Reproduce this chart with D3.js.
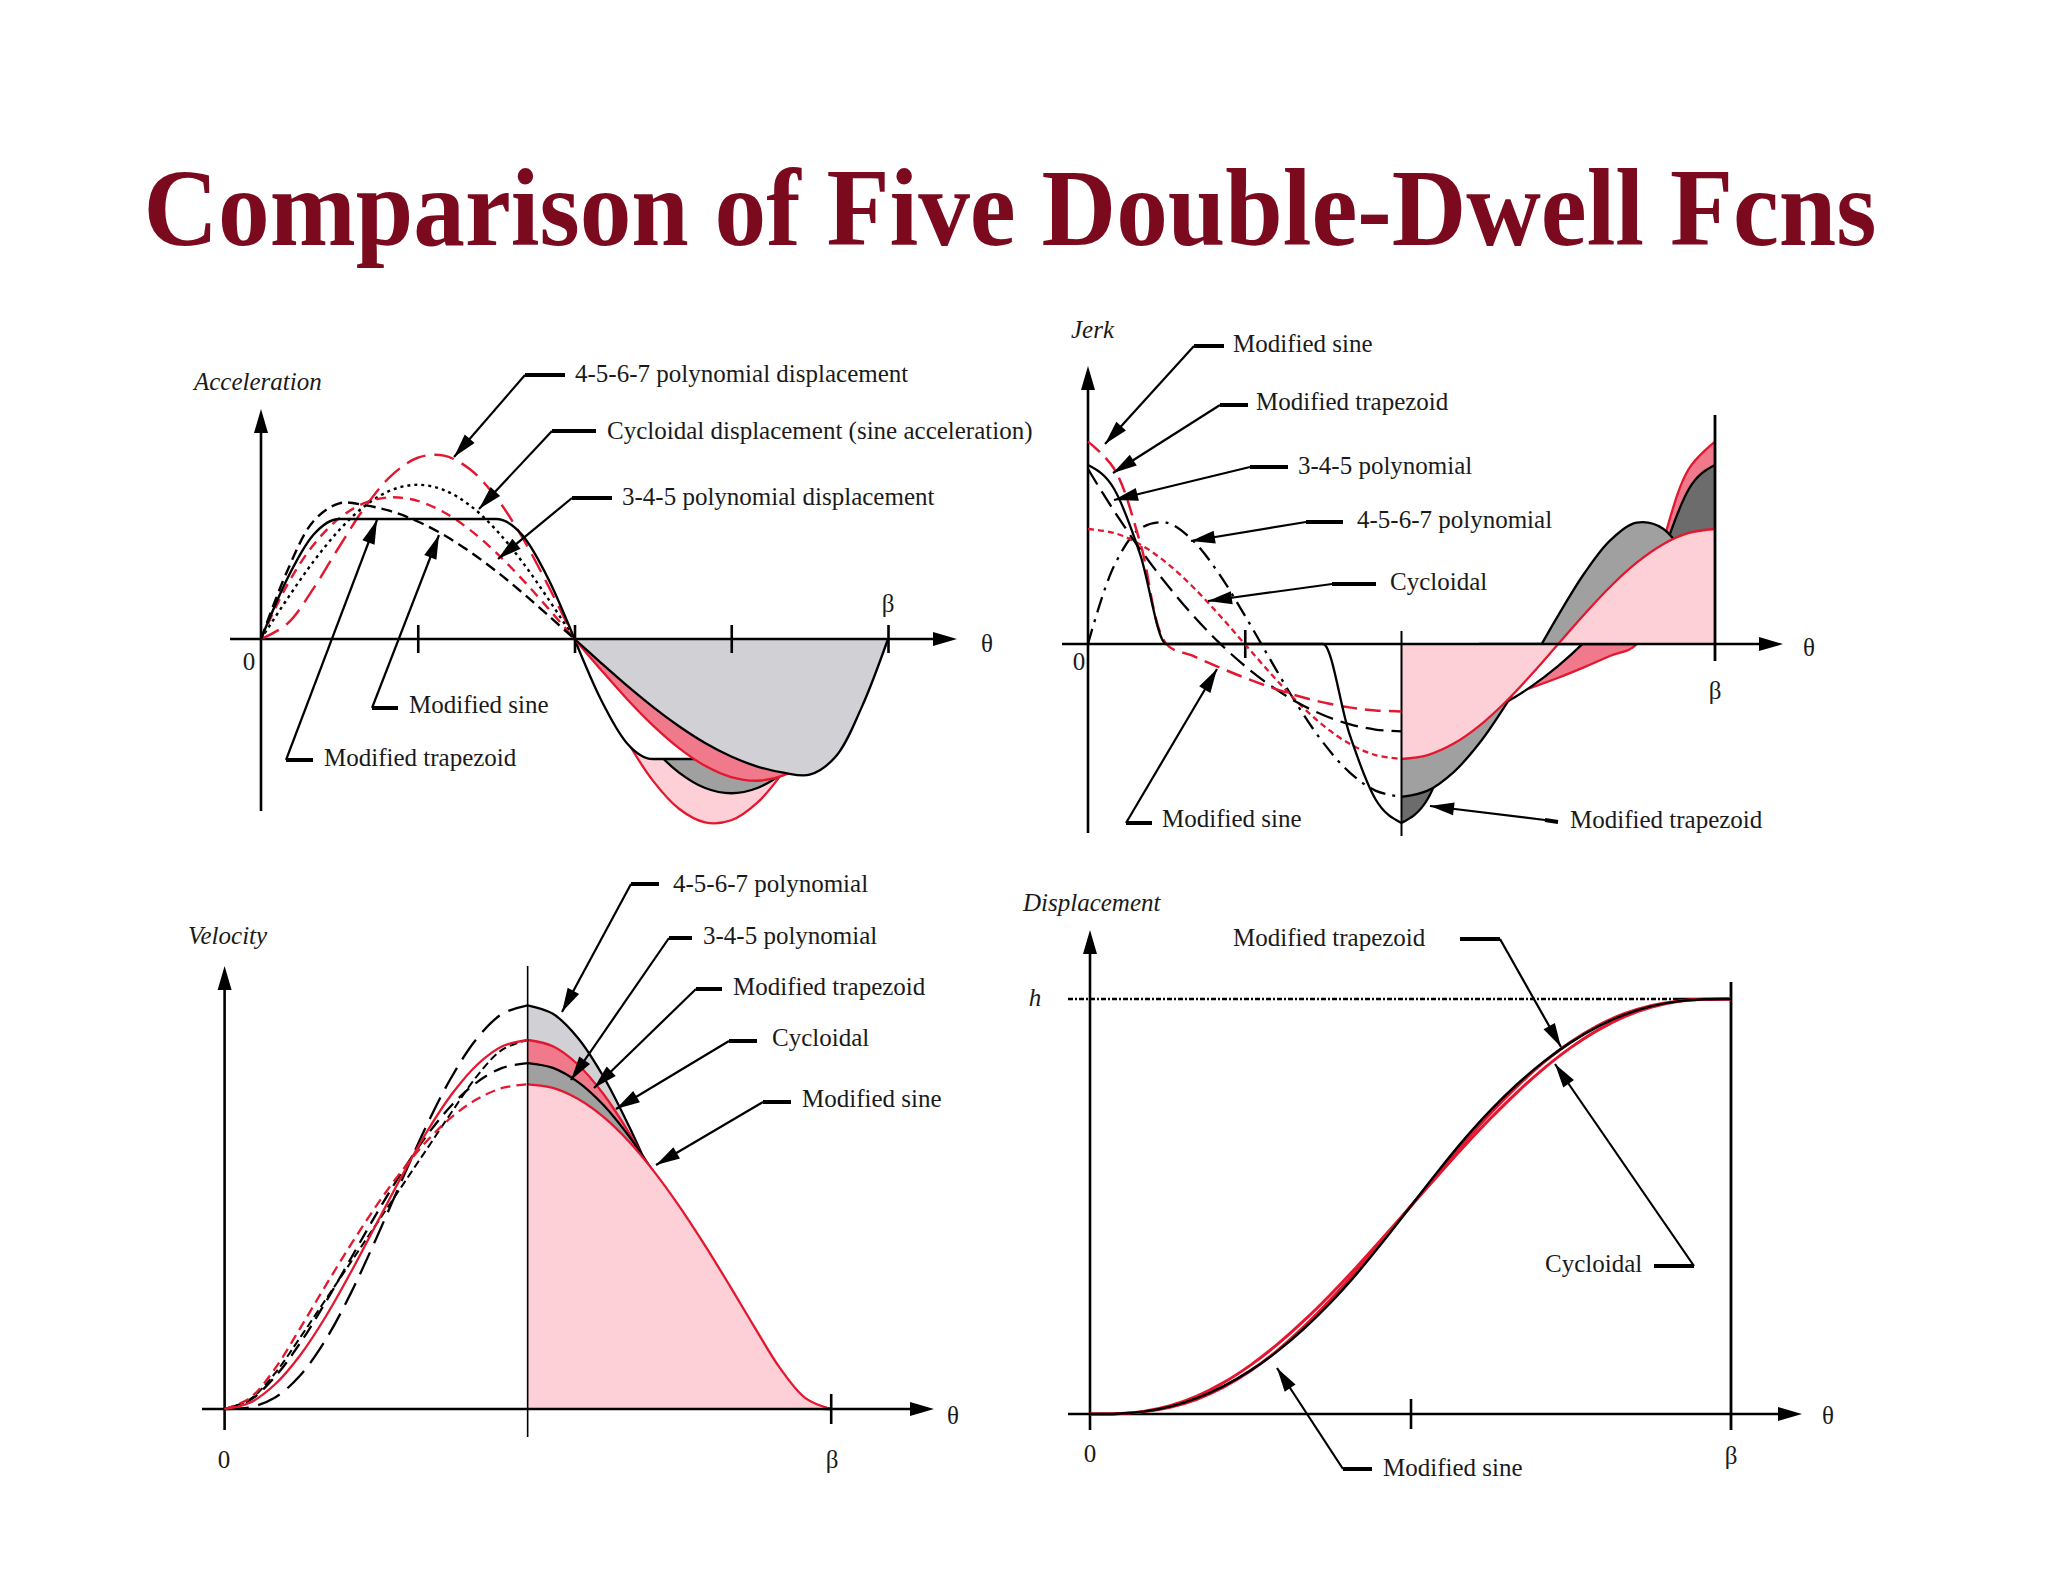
<!DOCTYPE html>
<html><head><meta charset="utf-8">
<script src="https://cdn.jsdelivr.net/npm/d3@7"></script>
<style>html,body{margin:0;padding:0;background:#fff;} svg{display:block;}</style>
</head><body>
<script>
// ---------- DATA (θ/β fraction and normalised values) ----------
const theta = [0,0.0417,0.0833,0.125,0.1667,0.2083,0.25,0.2917,0.3333,0.375,0.4167,0.4583,0.5,0.5417,0.5833,0.625,0.6667,0.7083,0.75,0.7917,0.8333,0.875,0.9167,0.9583,1];

// Acceleration
const accModTrap = [0,2.444,4.233,4.888,4.888,4.888,4.888,4.888,4.888,4.888,4.233,2.444,0,-2.444,-4.233,-4.888,-4.888,-4.888,-4.888,-4.888,-4.888,-4.888,-4.233,-2.444,0];
const accModSine = [0,2.764,4.787,5.528,5.444,5.195,4.787,4.235,3.553,2.764,1.891,0.960,0,-0.960,-1.891,-2.764,-3.553,-4.235,-4.787,-5.195,-5.444,-5.528,-4.787,-2.764,0];
const acc345 = [0,2.196,3.819,4.922,5.556,5.773,5.625,5.165,4.444,3.516,2.431,1.241,0,-1.241,-2.431,-3.516,-4.444,-5.165,-5.625,-5.773,-5.556,-4.922,-3.819,-2.196,0];
const accCyc = [0,1.626,3.142,4.443,5.441,6.069,6.283,6.069,5.441,4.443,3.142,1.626,0,-1.626,-3.142,-4.443,-5.441,-6.069,-6.283,-6.069,-5.441,-4.443,-3.142,-1.626,0];
const acc4567 = [0,0.614,2.042,3.768,5.401,6.665,7.383,7.469,6.914,5.768,4.135,2.157,0,-2.157,-4.135,-5.768,-6.914,-7.469,-7.383,-6.665,-5.401,-3.768,-2.042,-0.614,0];

// Jerk
const jerkModTrap = [61.43,53.2,30.71,0,0,0,0,0,0,0,-30.71,-53.2,-61.43,-53.2,-30.71,0,0,0,0,0,0,0,30.71,53.2,61.43];
const jerkModSine = [69.47,60.16,34.73,0,-4.02,-7.92,-11.58,-14.88,-17.74,-20.05,-21.76,-22.8,-23.16,-22.8,-21.76,-20.05,-17.74,-14.88,-11.58,-7.92,-4.02,0,34.73,60.16,69.47];
const jerk345 = [60,45.63,32.5,20.63,10,0.63,-7.5,-14.38,-20,-24.38,-27.5,-29.38,-30,-29.38,-27.5,-24.38,-20,-14.38,-7.5,0.63,10,20.63,32.5,45.63,60];
const jerkCyc = [39.48,38.13,34.19,27.92,19.74,10.22,0,-10.22,-19.74,-27.92,-34.19,-38.13,-39.48,-38.13,-34.19,-27.92,-19.74,-10.22,0,10.22,19.74,27.92,34.19,38.13,39.48];
const jerk4567 = [0,26.85,39.66,41.63,35.65,24.29,9.84,-5.72,-20.74,-33.84,-43.95,-50.33,-52.5,-50.33,-43.95,-33.84,-20.74,-5.72,9.84,24.29,35.65,41.63,39.66,26.85,0];

// Velocity
const velModTrap = [0,0.052,0.194,0.389,0.593,0.796,1,1.204,1.407,1.611,1.806,1.948,2,1.948,1.806,1.611,1.407,1.204,1,0.796,0.593,0.389,0.194,0.052,0];
const velModSine = [0,0.059,0.22,0.44,0.669,0.891,1.1,1.288,1.451,1.583,1.68,1.74,1.76,1.74,1.68,1.583,1.451,1.288,1.1,0.891,0.669,0.44,0.22,0.059,0];
const vel345 = [0,0.048,0.175,0.359,0.579,0.816,1.055,1.28,1.481,1.648,1.772,1.849,1.875,1.849,1.772,1.648,1.481,1.28,1.055,0.816,0.579,0.359,0.175,0.048,0];
const velCyc = [0,0.034,0.134,0.293,0.5,0.741,1,1.259,1.5,1.707,1.866,1.966,2,1.966,1.866,1.707,1.5,1.259,1,0.741,0.5,0.293,0.134,0.034,0];
const vel4567 = [0,0.009,0.062,0.183,0.375,0.628,0.923,1.235,1.536,1.802,2.01,2.142,2.188,2.142,2.01,1.802,1.536,1.235,0.923,0.628,0.375,0.183,0.062,0.009,0];

// Displacement (fraction of h) – the tight red/black bundle
const dispModTrap = [0,0.0007,0.0056,0.0177,0.0381,0.0671,0.1045,0.1504,0.2048,0.2677,0.3389,0.4174,0.5,0.5826,0.6611,0.7323,0.7952,0.8496,0.8955,0.9329,0.9619,0.9823,0.9944,0.9993,1];
const dispModSine = [0,0.0008,0.0063,0.02,0.0431,0.0756,0.1172,0.167,0.2242,0.2875,0.3556,0.427,0.5,0.573,0.6444,0.7125,0.7758,0.833,0.8828,0.9244,0.9569,0.98,0.9937,0.9992,1];
const disp345 = [0,0.0007,0.0051,0.0161,0.0355,0.0645,0.1035,0.1522,0.2099,0.2752,0.3466,0.4222,0.5,0.5778,0.6534,0.7248,0.7901,0.8478,0.8965,0.9355,0.9645,0.9839,0.9949,0.9993,1];

const xTickLabels = ["0","β"];
const titleText = "Comparison of Five Double-Dwell Fcns";

// ---------- DRAWING ----------
const W = 2048, H = 1582;
const RED = "#e3172f", PINK = "#fdd0d7", SALMON = "#f07a8b", LGREY = "#d0d0d5", MGREY = "#a0a0a0", DGREY = "#6c6c6c";
const FONT = "'Liberation Serif','Times New Roman',serif";
const SMOOTH = d3.curveCatmullRom.alpha(0.5), KINKED = d3.curveMonotoneX;

const svg = d3.select("body").append("svg").attr("width", W).attr("height", H);
svg.append("rect").attr("width", W).attr("height", H).attr("fill", "#fff");

svg.append("text").attr("x", 1010).attr("y", 245).attr("text-anchor", "middle")
  .attr("font-family", FONT).attr("font-weight", "bold").attr("font-size", 110)
  .attr("fill", "#7b0a1e").attr("textLength", 1733).attr("lengthAdjust", "spacingAndGlyphs")
  .text(titleText);

function arrowHead(g, tip, from, len, hw) {
  const dx = tip[0] - from[0], dy = tip[1] - from[1];
  const L = Math.hypot(dx, dy), ux = dx / L, uy = dy / L;
  const bx = tip[0] - ux * len, by = tip[1] - uy * len, px = -uy, py = ux;
  g.append("path").attr("d", `M${tip[0]},${tip[1]}L${bx + px * hw},${by + py * hw}L${bx - px * hw},${by - py * hw}Z`).attr("fill", "#000");
}

function text(g, x, y, s, opts = {}) {
  return g.append("text").attr("x", x).attr("y", y).attr("font-family", FONT)
    .attr("font-size", opts.size || 25).attr("font-style", opts.italic ? "italic" : "normal")
    .attr("text-anchor", opts.anchor || "start").attr("fill", "#1a1a1a").text(s);
}

function drawPanel(p) {
  const g = svg.append("g");
  const xs = d3.scaleLinear().domain([0, 1]).range([p.x0, p.x1]);
  const ys = d3.scaleLinear().domain([0, 1]).range([p.y0, p.y0 - p.unit]);
  const pts = vals => theta.map((t, i) => ({ t, v: vals[i] }));
  const lineGen = c => d3.line().x(d => xs(d.t)).y(d => ys(d.v)).curve(c || SMOOTH);
  const areaGen = c => d3.area().x(d => xs(d.t)).y0(ys(0)).y1(d => ys(d.v)).curve(c || SMOOTH);

  // right-half filled regions (bottom to top)
  (p.fills || []).forEach(s => {
    const d = pts(s.values).filter(d => d.t >= 0.5);
    g.append("path").datum(d).attr("d", areaGen(s.curve)).attr("fill", s.fill);
    g.append("path").datum(d).attr("d", lineGen(s.curve)).attr("fill", "none").attr("stroke", s.color).attr("stroke-width", 2.3);
  });

  // axes lines
  g.append("line").attr("x1", p.yAxisX).attr("x2", p.yAxisX).attr("y1", p.yTop + 10).attr("y2", p.yBottom).attr("stroke", "#000").attr("stroke-width", 2.6);
  arrowHead(g, [p.yAxisX, p.yTop], [p.yAxisX, p.yTop + 50], 24, 7);
  g.append("line").attr("x1", p.xLeft).attr("x2", p.xRight - 10).attr("y1", p.y0).attr("y2", p.y0).attr("stroke", "#000").attr("stroke-width", 2.6);
  arrowHead(g, [p.xRight, p.y0], [p.xRight - 50, p.y0], 24, 7);

  // tick marks through the library axis
  if (p.ticks && p.ticks.length) {
    const ax = d3.axisBottom(xs).tickValues(p.ticks).tickFormat("").tickSizeOuter(0).tickSizeInner(p.tickHalf);
    const ga = g.append("g").attr("transform", `translate(0,${p.y0})`).call(ax);
    ga.select(".domain").remove();
    ga.selectAll(".tick line").attr("y1", -p.tickHalf).attr("y2", p.tickHalf).attr("stroke", "#000").attr("stroke-width", 2.6);
  }

  // extra vertical rules
  (p.vlines || []).forEach(v => {
    g.append("line").attr("x1", xs(v.t)).attr("x2", xs(v.t)).attr("y1", v.y1).attr("y2", v.y2).attr("stroke", "#000").attr("stroke-width", v.w);
  });

  // h reference line
  if (p.hline) {
    g.append("line").attr("x1", p.hline.x1).attr("x2", p.hline.xd).attr("y1", ys(1)).attr("y2", ys(1))
      .attr("stroke", "#000").attr("stroke-width", 2.6).attr("stroke-dasharray", "5,2,2,2");
    g.append("line").attr("x1", p.hline.xd).attr("x2", xs(1)).attr("y1", ys(1)).attr("y2", ys(1))
      .attr("stroke", "#000").attr("stroke-width", 2.6);
  }

  // left-half (or full) styled curves
  (p.lines || []).forEach(s => {
    const d = pts(s.values).filter(d => p.fullLines ? true : d.t <= 0.5);
    g.append("path").datum(d).attr("d", lineGen(s.curve)).attr("fill", "none").attr("stroke", s.color)
      .attr("stroke-width", s.w || 2.4).attr("stroke-dasharray", s.dash || null);
  });

  // axis labels
  text(g, p.title[0], p.title[1], p.title[2], { italic: true });
  text(g, p.zero[0], p.zero[1], xTickLabels[0], { anchor: "middle" });
  text(g, p.beta[0], p.beta[1], xTickLabels[1], { anchor: "middle" });
  text(g, p.thetaLbl[0], p.thetaLbl[1], "θ", { anchor: "middle" });
  if (p.hLbl) text(g, p.hLbl[0], p.hLbl[1], "h", { italic: true, anchor: "middle" });

  // annotations
  (p.notes || []).forEach(n => {
    text(g, n.tx, n.ty, n.text);
    g.append("line").attr("x1", n.stub[0][0]).attr("y1", n.stub[0][1]).attr("x2", n.stub[1][0]).attr("y2", n.stub[1][1])
      .attr("stroke", "#000").attr("stroke-width", 4);
    g.append("line").attr("x1", n.stub[1][0]).attr("y1", n.stub[1][1]).attr("x2", n.tip[0]).attr("y2", n.tip[1])
      .attr("stroke", "#000").attr("stroke-width", 2.2);
    arrowHead(g, n.tip, n.stub[1], 24, 6.5);
  });
}

// Acceleration
drawPanel({
  x0: 261, x1: 888, y0: 639, unit: 24.55,
  yAxisX: 261, yTop: 409, yBottom: 811, xLeft: 230, xRight: 957,
  ticks: [0.25, 0.5, 0.75, 1], tickHalf: 14,
  fills: [
    { values: acc4567, fill: PINK, color: RED },
    { values: accCyc, fill: MGREY, color: "#000" },
    { values: accModTrap, fill: "#fff", color: "#000", curve: KINKED },
    { values: acc345, fill: SALMON, color: RED },
    { values: accModSine, fill: LGREY, color: "#000" }
  ],
  lines: [
    { values: acc4567, color: RED, dash: "20,9" },
    { values: accCyc, color: "#000", dash: "3,4" },
    { values: acc345, color: RED, dash: "10,7" },
    { values: accModSine, color: "#000", dash: "11,6" },
    { values: accModTrap, color: "#000", curve: KINKED }
  ],
  title: [194, 390, "Acceleration"], zero: [249, 670], beta: [888, 612], thetaLbl: [987, 652],
  notes: [
    { text: "4-5-6-7 polynomial displacement", tx: 575, ty: 382, stub: [[565, 375], [525, 375]], tip: [454, 457] },
    { text: "Cycloidal displacement (sine acceleration)", tx: 607, ty: 439, stub: [[596, 431], [552, 431]], tip: [479, 509] },
    { text: "3-4-5 polynomial displacement", tx: 622, ty: 505, stub: [[612, 498], [572, 498]], tip: [498, 559] },
    { text: "Modified sine", tx: 409, ty: 713, stub: [[398, 708], [372, 708]], tip: [439, 535] },
    { text: "Modified trapezoid", tx: 324, ty: 766, stub: [[313, 760], [286, 760]], tip: [377, 520] }
  ]
});

// Jerk
drawPanel({
  x0: 1088, x1: 1715, y0: 644, unit: 2.913,
  yAxisX: 1088, yTop: 366, yBottom: 833, xLeft: 1062, xRight: 1783,
  ticks: [0.25], tickHalf: 14,
  fills: [
    { values: jerkModSine, fill: SALMON, color: RED },
    { values: jerk345, fill: "#fff", color: "#000" },
    { values: jerkModTrap, fill: DGREY, color: "#000", curve: KINKED },
    { values: jerk4567, fill: MGREY, color: "#000" },
    { values: jerkCyc, fill: PINK, color: RED }
  ],
  vlines: [{ t: 0.5, y1: 631, y2: 836, w: 2 }, { t: 1, y1: 415, y2: 661, w: 2.8 }],
  lines: [
    { values: jerk4567, color: "#000", dash: "16,7,3,7", w: 2.3 },
    { values: jerkCyc, color: RED, dash: "6,4", w: 2.3 },
    { values: jerk345, color: "#000", dash: "18,8", w: 2.3 },
    { values: jerkModSine, color: RED, dash: "16,8", w: 2.5 },
    { values: jerkModTrap, color: "#000", w: 2.3, curve: KINKED }
  ],
  title: [1071, 338, "Jerk"], zero: [1079, 670], beta: [1715, 699], thetaLbl: [1809, 656],
  notes: [
    { text: "Modified sine", tx: 1233, ty: 352, stub: [[1224, 346], [1194, 346]], tip: [1105, 444] },
    { text: "Modified trapezoid", tx: 1256, ty: 410, stub: [[1248, 405], [1220, 405]], tip: [1113, 473] },
    { text: "3-4-5 polynomial", tx: 1298, ty: 474, stub: [[1288, 467], [1250, 467]], tip: [1114, 500] },
    { text: "4-5-6-7 polynomial", tx: 1357, ty: 528, stub: [[1343, 522], [1306, 522]], tip: [1191, 541] },
    { text: "Cycloidal", tx: 1390, ty: 590, stub: [[1376, 584], [1332, 584]], tip: [1208, 601] },
    { text: "Modified sine", tx: 1162, ty: 827, stub: [[1152, 823], [1126, 823]], tip: [1217, 669] },
    { text: "Modified trapezoid", tx: 1570, ty: 828, stub: [[1558, 822], [1545, 820]], tip: [1430, 806] }
  ]
});

// Velocity
drawPanel({
  x0: 224.6, x1: 830.7, y0: 1409, unit: 184.5,
  yAxisX: 224.6, yTop: 966, yBottom: 1430, xLeft: 202, xRight: 934,
  ticks: [1], tickHalf: 15,
  fills: [
    { values: vel4567, fill: LGREY, color: "#000" },
    { values: velCyc, fill: SALMON, color: RED },
    { values: vel345, fill: MGREY, color: "#000" },
    { values: velModSine, fill: PINK, color: RED }
  ],
  vlines: [{ t: 0.5, y1: 966, y2: 1437, w: 1.6 }],
  lines: [
    { values: vel4567, color: "#000", dash: "24,10", w: 2.3 },
    { values: velModTrap, color: "#000", dash: "8,4", w: 2 },
    { values: vel345, color: "#000", dash: "14,8", w: 2.3 },
    { values: velModSine, color: RED, dash: "10,6", w: 2.3 },
    { values: velCyc, color: RED, w: 2.3 }
  ],
  title: [188, 944, "Velocity"], zero: [224, 1468], beta: [832, 1468], thetaLbl: [953, 1424],
  notes: [
    { text: "4-5-6-7 polynomial", tx: 673, ty: 892, stub: [[659, 884], [631, 884]], tip: [562, 1012] },
    { text: "3-4-5 polynomial", tx: 703, ty: 944, stub: [[692, 938], [669, 938]], tip: [571, 1080] },
    { text: "Modified trapezoid", tx: 733, ty: 995, stub: [[722, 989], [696, 989]], tip: [594, 1088] },
    { text: "Cycloidal", tx: 772, ty: 1046, stub: [[757, 1041], [729, 1041]], tip: [616, 1109] },
    { text: "Modified sine", tx: 802, ty: 1107, stub: [[791, 1102], [763, 1102]], tip: [656, 1165] }
  ]
});

// Displacement
drawPanel({
  x0: 1090, x1: 1731, y0: 1414, unit: 415,
  yAxisX: 1090, yTop: 930, yBottom: 1430, xLeft: 1068, xRight: 1802,
  ticks: [0.5], tickHalf: 15,
  vlines: [{ t: 1, y1: 982, y2: 1430, w: 2.8 }],
  hline: { x1: 1068, xd: 1674 },
  fullLines: true,
  lines: [
    { values: dispModSine, color: RED, w: 3 },
    { values: disp345, color: RED, w: 3 },
    { values: dispModTrap, color: "#000", w: 2.4 }
  ],
  title: [1023, 911, "Displacement"], zero: [1090, 1462], beta: [1731, 1464], thetaLbl: [1828, 1424], hLbl: [1035, 1006],
  notes: [
    { text: "Modified trapezoid", tx: 1233, ty: 946, stub: [[1460, 939], [1500, 939]], tip: [1561, 1047] },
    { text: "Cycloidal", tx: 1545, ty: 1272, stub: [[1654, 1266], [1694, 1266]], tip: [1555, 1064] },
    { text: "Modified sine", tx: 1383, ty: 1476, stub: [[1372, 1469], [1343, 1469]], tip: [1277, 1368] }
  ]
});
</script>
</body></html>
